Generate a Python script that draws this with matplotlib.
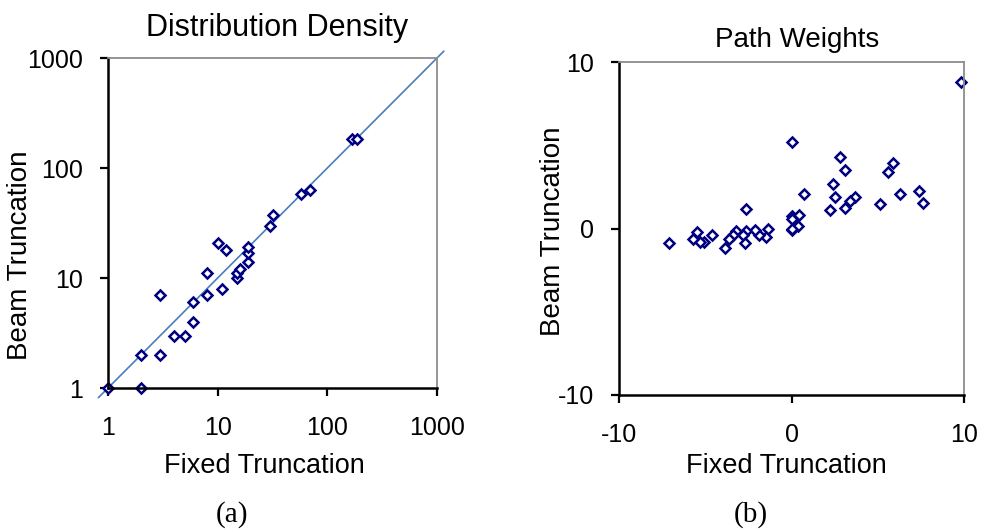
import matplotlib
matplotlib.use("Agg")
import matplotlib.pyplot as plt
from matplotlib.ticker import FixedLocator, FixedFormatter, NullLocator

plt.rcParams["font.family"] = ["Liberation Sans", "DejaVu Sans"]

# (a) Distribution Density, log-log
dens_fixed = [1, 2, 2, 3, 3, 4, 5, 6, 6, 8, 8, 11, 10, 12, 15, 15, 16, 19, 19, 19,
              30, 32, 58, 70, 167, 185]
dens_beam = [1, 1, 2, 2, 7, 3, 3, 4, 6, 7, 11, 8, 21, 18, 10, 11, 12, 14, 17, 19,
             30, 37, 58, 63, 185, 185]
dens_ticks = [1, 10, 100, 1000]
dens_labels = ["1", "10", "100", "1000"]

# (b) Path Weights
pw_fixed = [9.83, 0.0, 2.82, 3.09, 5.88, 5.57, 2.38, 0.70, 2.51, 3.69, 3.42, 3.13,
            2.24, 5.15, 6.31, 7.37, 7.60, -2.61, 0.0, 0.43, 0.0, 0.35, 0.0, 0.0,
            -1.37, -1.49, -1.90, -2.13, -2.61, -2.84, -2.67, -3.23, -3.42, -3.62,
            -3.87, -4.58, -5.07, -5.32, -5.47, -5.71, -7.12]
pw_beam = [8.82, 5.17, 4.29, 3.49, 3.93, 3.41, 2.69, 2.10, 1.88, 1.92, 1.66, 1.26,
           1.10, 1.46, 2.10, 2.28, 1.54, 1.16, 0.78, 0.82, 0.56, 0.14, -0.08, 0.0,
           -0.02, -0.52, -0.40, -0.08, -0.14, -0.40, -0.90, -0.14, -0.40, -0.66,
           -1.16, -0.40, -0.84, -0.84, -0.24, -0.66, -0.90]
pw_ticks = [-10, 0, 10]
pw_labels = ["-10", "0", "10"]

MARK = dict(linestyle="none", marker="D", markersize=5.3, markeredgewidth=1.8,
            markeredgecolor="#000080", markerfacecolor="white", clip_on=False)

W, H = 982, 530


def px(x, y):
    # pixel position (from top-left) -> figure fraction
    return x / W, 1 - y / H


def style_axes(ax):
    for side in ("left", "bottom"):
        ax.spines[side].set_color("black")
        ax.spines[side].set_linewidth(1.8)
    for side in ("top", "right"):
        ax.spines[side].set_color("#8c8c8c")
        ax.spines[side].set_linewidth(1.3)
    ax.tick_params(which="major", direction="out", length=6, width=1.6,
                   color="black", labelsize=18)
    ax.tick_params(axis="y", pad=12)
    ax.tick_params(axis="x", pad=14)


fig = plt.figure(figsize=(W / 100, H / 100), dpi=100)

# panel (a)
ax1 = fig.add_axes([108 / W, 1 - 388 / H, 329 / W, 330 / H])
ax1.set_xscale("log")
ax1.set_yscale("log")
ax1.plot([0.82, 1150], [0.82, 1150], color="#4a7ebb", linewidth=1.2, clip_on=False)
ax1.plot(dens_fixed, dens_beam, **MARK)
ax1.set_xlim(1, 1000)
ax1.set_ylim(1, 1000)
for axis in (ax1.xaxis, ax1.yaxis):
    axis.set_major_locator(FixedLocator(dens_ticks))
    axis.set_major_formatter(FixedFormatter(dens_labels))
    axis.set_minor_locator(NullLocator())
style_axes(ax1)

# panel (b)
ax2 = fig.add_axes([619 / W, 1 - 395 / H, 345 / W, 333 / H])
ax2.plot(pw_fixed, pw_beam, **MARK)
ax2.set_xlim(-10, 10)
ax2.set_ylim(-10, 10)
ax2.set_xticks(pw_ticks)
ax2.set_xticklabels(pw_labels)
ax2.set_yticks(pw_ticks)
ax2.set_yticklabels(pw_labels)
style_axes(ax2)

# titles and axis labels placed where the reference has them
fig.text(*px(277, 36), "Distribution Density", fontsize=22, ha="center", va="baseline")
fig.text(*px(797, 47), "Path Weights", fontsize=20, ha="center", va="baseline")
fig.text(*px(264, 473), "Fixed Truncation", fontsize=19.5, ha="center", va="baseline")
fig.text(*px(786, 473), "Fixed Truncation", fontsize=19.5, ha="center", va="baseline")
fig.text(*px(20, 255), "Beam Truncation", fontsize=20, rotation=90,
         ha="center", va="center")
fig.text(*px(553, 231), "Beam Truncation", fontsize=20, rotation=90,
         ha="center", va="center")

fig.text(*px(232, 515), "(a)", fontsize=21, family="Liberation Serif",
         ha="center", va="center")
fig.text(*px(751, 515), "(b)", fontsize=21, family="Liberation Serif",
         ha="center", va="center")

fig.savefig("out.png", dpi=100)
